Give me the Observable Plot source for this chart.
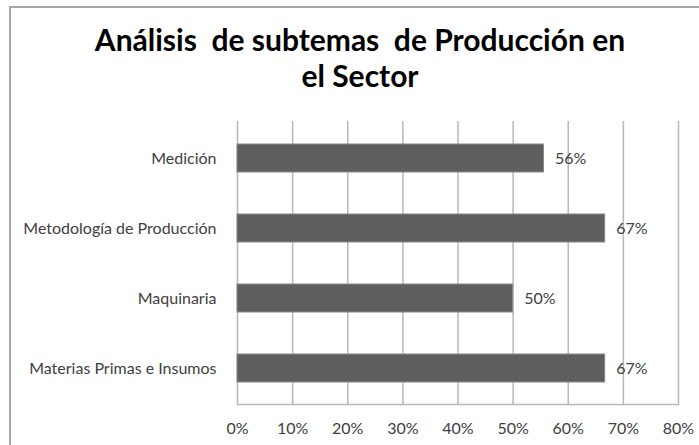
<!DOCTYPE html>
<html>
<head>
<meta charset="utf-8">
<script src="https://cdn.jsdelivr.net/npm/d3@7"></script>
<script src="https://cdn.jsdelivr.net/npm/@observablehq/plot@0.6"></script>
<style>
  html, body { margin: 0; padding: 0; background: #fff; }
  #wrap { position: relative; width: 699px; height: 445px; overflow: hidden; background: #fff; font-family: Lato, "Open Sans", sans-serif; }
  #frame { position: absolute; left: 9px; top: 6px; width: 800px; height: 600px; border: 2px solid #a6a6a6; box-sizing: border-box; }
  #title { position: absolute; left: 10px; width: 700px; top: 21px; text-align: center; font-size: 30px; font-weight: 700; line-height: 36px; color: #000; white-space: pre; }
  #chart { position: absolute; left: 0; top: 110px; }
</style>
</head>
<body>
<div id="wrap">
  <div id="frame"></div>
  <div id="title">Análisis  de subtemas  de Producción en
el Sector</div>
  <div id="chart"></div>
</div>
<script>
const categories = ["Medición", "Metodología de Producción", "Maquinaria", "Materias Primas e Insumos"];
const values = [0.556, 0.667, 0.5, 0.667];
const valueLabels = ["56%", "67%", "50%", "67%"];
const xTicks = [0, 0.1, 0.2, 0.3, 0.4, 0.5, 0.6, 0.7, 0.8];

const data = categories.map((c, i) => ({category: c, value: values[i], label: valueLabels[i]}));
const pct = d => Math.round(d * 100) + "%";

const chart = Plot.plot({
  width: 699,
  height: 335,
  marginTop: 11,
  marginBottom: 41,
  marginLeft: 237,
  marginRight: 21,
  style: {fontFamily: "Lato, 'Open Sans', sans-serif", background: "transparent"},
  x: {domain: [0, 0.8], ticks: xTicks, tickFormat: pct},
  y: {domain: categories, paddingInner: 0.6, paddingOuter: 0.3},
  marks: [
    Plot.gridX(xTicks, {stroke: "#b8b8b8", strokeOpacity: 1, strokeWidth: 1.5}),
    Plot.frame({anchor: "bottom", stroke: "#b8b8b8", strokeWidth: 1.5}),
    Plot.barX(data, {x: "value", y: "category", fill: "#5e5e5e", stroke: "#8a8a8a", strokeWidth: 1}),
    Plot.text(data, {x: "value", y: "category", text: "label", dx: 11, textAnchor: "start", fontSize: 16, fill: "#404040"}),
    Plot.axisX(xTicks, {tickSize: 0, tickPadding: 18, fontSize: 16, color: "#404040", tickFormat: pct, label: null}),
    Plot.axisY({tickSize: 0, tickPadding: 21, fontSize: 16, color: "#404040", label: null})
  ]
});
document.getElementById("chart").appendChild(chart);
</script>
</body>
</html>
